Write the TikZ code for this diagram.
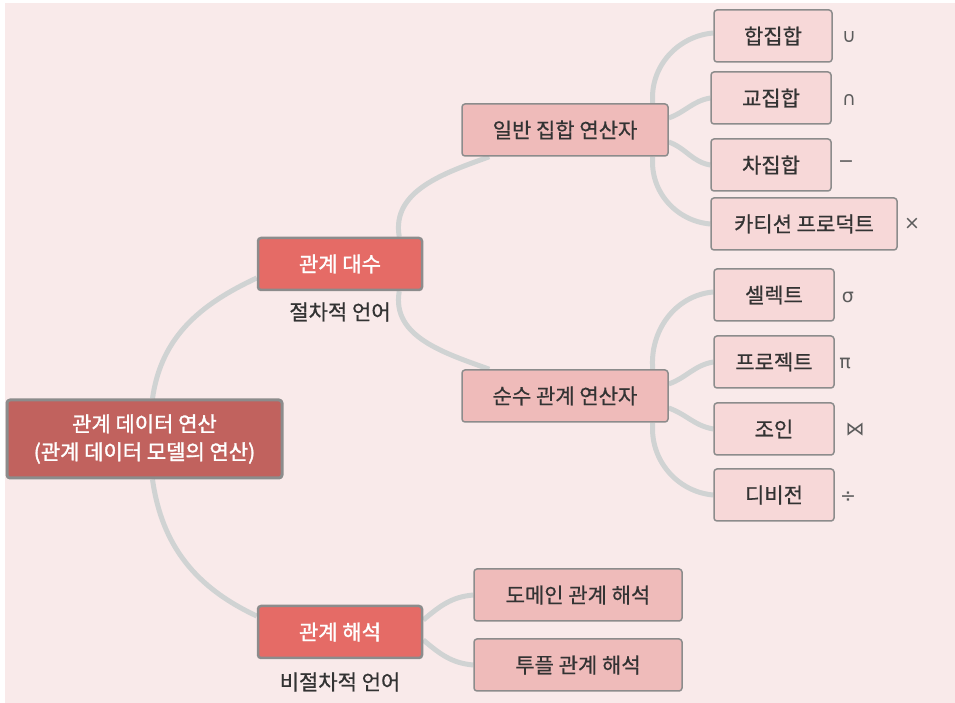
\documentclass[tikz,border=0pt]{standalone}
\usepackage{fontspec}
\setmainfont{Noto Sans CJK KR}
\newfontfamily\heavyfont{Noto Sans CJK KR}[FakeBold=1.5]
\newfontfamily\midfont{Noto Sans CJK KR}[FakeBold=0.6]
\newfontfamily\symfont{DejaVu Sans}
\usepackage{tikz}
\usetikzlibrary{backgrounds}
\definecolor{bgpink}{HTML}{F9EAEA}
\definecolor{rootred}{HTML}{C1625E}
\definecolor{catred}{HTML}{E56B66}
\definecolor{oppink}{HTML}{EFBBBA}
\definecolor{leafpink}{HTML}{F7D8D8}
\definecolor{boxgray}{HTML}{8C8C8C}
\definecolor{linkgray}{HTML}{D0D3D3}
\definecolor{txtgray}{HTML}{333333}

\begin{document}
\begin{tikzpicture}[line cap=round,line join=round,x=1pt,y=1pt,
  every node/.style={font=\midfont\fontsize{21}{28}\selectfont},
  rootbox/.style={draw=boxgray,line width=3pt,rounded corners=3pt,fill=rootred,text=white,align=center,minimum width=275pt,minimum height=78pt,inner sep=0pt,font=\heavyfont\fontsize{21}{28}\selectfont},
  catbox/.style={draw=boxgray,line width=2.5pt,rounded corners=3pt,fill=catred,text=white,minimum width=164pt,minimum height=52pt,inner sep=0pt,font=\heavyfont\fontsize{21}{28}\selectfont},
  opbox/.style={draw=boxgray,line width=1.5pt,rounded corners=3pt,fill=oppink,text=txtgray,minimum height=52pt,inner sep=0pt},
  leafbox/.style={draw=boxgray,line width=1.5pt,rounded corners=3pt,fill=leafpink,text=txtgray,minimum height=52pt,inner sep=0pt},
  caption/.style={text=txtgray},
  symb/.style={text=txtgray!80,font=\symfont\fontsize{19}{22}\selectfont},
  branch/.style={draw=linkgray,line width=5pt}]
\useasboundingbox (0,0) rectangle (955,703);
\begin{pgfonlayer}{background}
\fill[white] (0,0) rectangle (955,703);
\fill[bgpink] (5,0) rectangle (955,700);
\end{pgfonlayer}
\node[rootbox] (ops) at (144.5,264) {관계 데이터 연산\\(관계 데이터 모델의 연산)};
\node[catbox] (alg) at (340,439) {관계 대수};
\node[catbox] (calc) at (340,71) {관계 해석};
\node[caption] (algnote) at (340,391) {절차적 언어};
\node[caption] (calcnote) at (340,21) {비절차적 언어};
\node[opbox,minimum width=206pt] (setop) at (565,573) {일반 집합 연산자};
\node[opbox,minimum width=206pt] (relop) at (565,307) {순수 관계 연산자};
\node[leafbox,minimum width=118pt] (union) at (773,667) {합집합};
\node[leafbox,minimum width=120pt] (inter) at (771,605) {교집합};
\node[leafbox,minimum width=120pt] (diff) at (771,538) {차집합};
\node[leafbox,minimum width=186pt] (cart) at (804,479) {카티션 프로덕트};
\node[leafbox,minimum width=120pt] (sel) at (774,408) {셀렉트};
\node[leafbox,minimum width=120pt] (proj) at (774,341) {프로젝트};
\node[leafbox,minimum width=120pt] (join) at (774,274) {조인};
\node[leafbox,minimum width=120pt] (divi) at (774,208) {디비전};
\node[opbox,minimum width=208pt] (dom) at (578,108) {도메인 관계 해석};
\node[opbox,minimum width=208pt] (tup) at (578,38) {투플 관계 해석};
\node[symb] (sunion) at (849,666) {∪};
\node[symb] (sinter) at (849,603) {∩};
\node[symb] (sdiff) at (846,539) {−};
\node[symb] (scart) at (912,479) {×};
\node[symb] (ssel) at (848,406) {σ};
\node[symb] (sproj) at (845,340) {π};
\node[symb] (sjoin) at (855,273) {⋈};
\node[symb] (sdivi) at (848,206) {÷};
\begin{pgfonlayer}{background}
\draw[branch] ([xshift=8pt]ops.north) to[out=82,in=205] ([yshift=-14pt]alg.west);
\draw[branch] ([xshift=8pt]ops.south) to[out=-82,in=155] ([yshift=16pt]calc.west);
\draw[branch] ([xshift=-24pt]alg.north east) to[out=100,in=200] ([xshift=28pt]setop.south west);
\draw[branch] ([xshift=-24pt]alg.south east) to[out=-100,in=160] ([xshift=28pt]relop.north west);
\draw[branch] ([xshift=-16pt]setop.north east) to[out=95,in=185] ([yshift=3pt]union.west);
\draw[branch] ([yshift=12pt]setop.east) to[out=20,in=190] (inter.west);
\draw[branch] ([yshift=-12pt]setop.east) to[out=-20,in=170] (diff.west);
\draw[branch] ([xshift=-16pt]setop.south east) to[out=-95,in=175] (cart.west);
\draw[branch] ([xshift=-16pt]relop.north east) to[out=95,in=185] ([yshift=3pt]sel.west);
\draw[branch] ([yshift=12pt]relop.east) to[out=20,in=190] (proj.west);
\draw[branch] ([yshift=-12pt]relop.east) to[out=-20,in=170] (join.west);
\draw[branch] ([xshift=-16pt]relop.south east) to[out=-95,in=175] (divi.west);
\draw[branch] ([yshift=12pt]calc.east) to[out=40,in=185] (dom.west);
\draw[branch] ([yshift=-8pt]calc.east) to[out=-40,in=175] (tup.west);
\end{pgfonlayer}
\end{tikzpicture}
\end{document}
